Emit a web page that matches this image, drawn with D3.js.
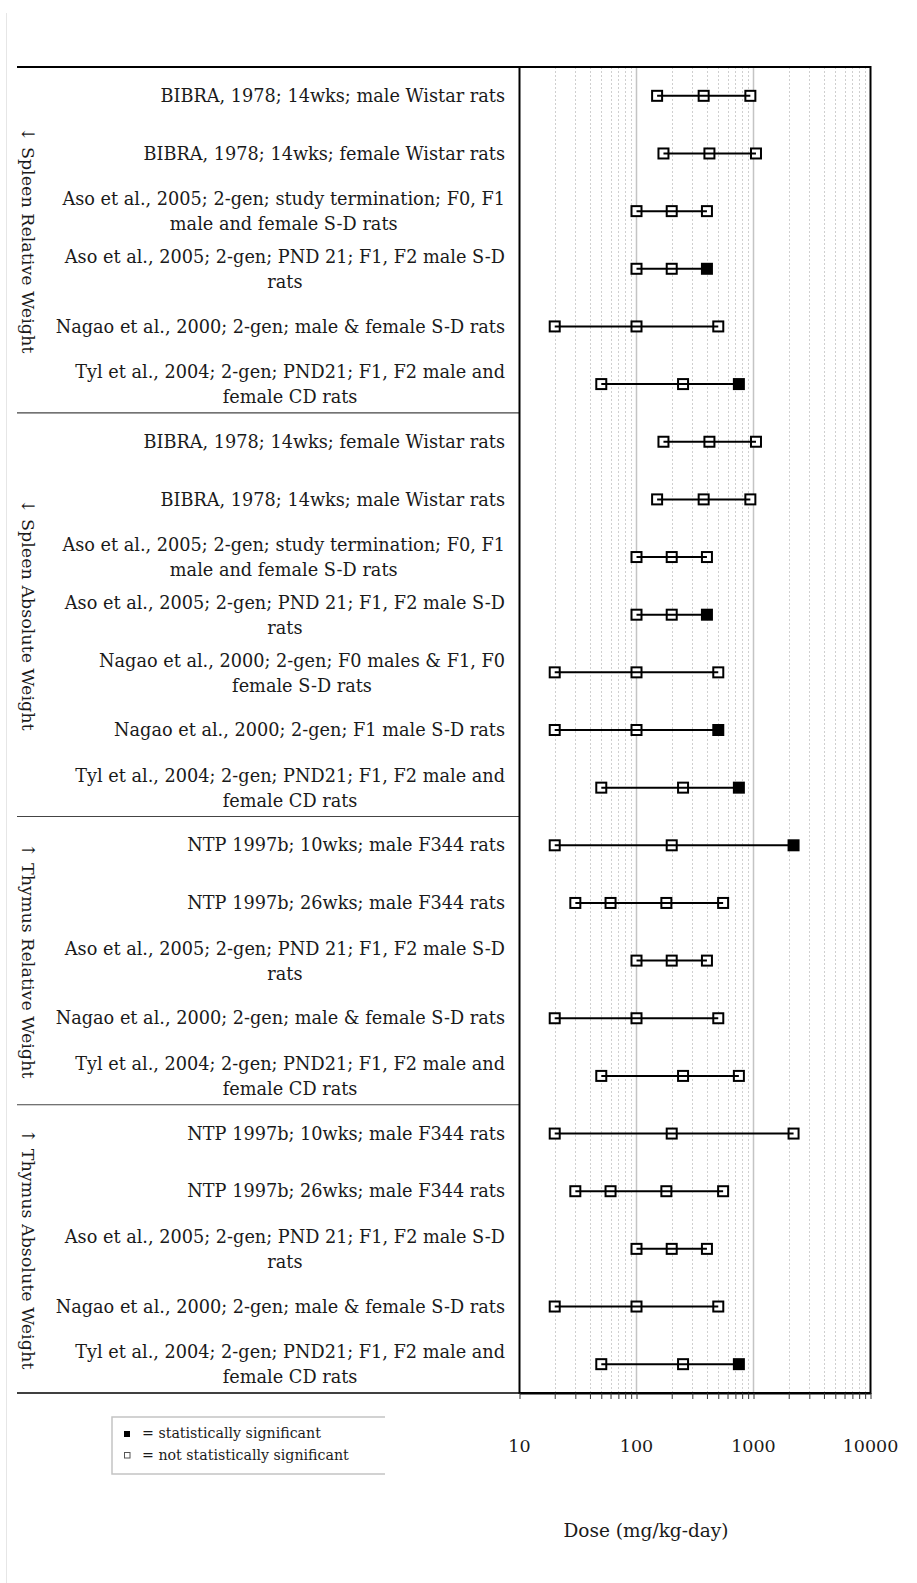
<!DOCTYPE html>
<html>
<head>
<meta charset="utf-8">
<script src="https://cdn.jsdelivr.net/npm/d3@7"></script>
<style>
  html, body { margin: 0; padding: 0; background: #fff; }
  svg { display: block; }
  text { font-family: "DejaVu Serif", serif; fill: #1a1a1a; }
</style>
</head>
<body>
<script>
// ---------------- DATA ----------------
const sectionNames = ["\u2193 Spleen Relative Weight", "\u2193 Spleen Absolute Weight", "\u2191 Thymus Relative Weight", "\u2191 Thymus Absolute Weight"];
const sectionSizes = [6, 7, 5, 5];

const studyLabels = [
  "BIBRA, 1978; 14wks; male Wistar rats",
  "BIBRA, 1978; 14wks; female Wistar rats",
  "Aso et al., 2005; 2-gen; study termination; F0, F1|male and female S-D rats",
  "Aso et al., 2005; 2-gen; PND 21; F1, F2 male S-D|rats",
  "Nagao et al., 2000; 2-gen; male & female S-D rats",
  "Tyl et al., 2004; 2-gen; PND21; F1, F2 male and|female CD rats",

  "BIBRA, 1978; 14wks; female Wistar rats",
  "BIBRA, 1978; 14wks; male Wistar rats",
  "Aso et al., 2005; 2-gen; study termination; F0, F1|male and female S-D rats",
  "Aso et al., 2005; 2-gen; PND 21; F1, F2 male S-D|rats",
  "Nagao et al., 2000; 2-gen; F0 males & F1, F0|female S-D rats",
  "Nagao et al., 2000; 2-gen; F1 male S-D rats",
  "Tyl et al., 2004; 2-gen; PND21; F1, F2 male and|female CD rats",

  "NTP 1997b; 10wks; male F344 rats",
  "NTP 1997b; 26wks; male F344 rats",
  "Aso et al., 2005; 2-gen; PND 21; F1, F2 male S-D|rats",
  "Nagao et al., 2000; 2-gen; male & female S-D rats",
  "Tyl et al., 2004; 2-gen; PND21; F1, F2 male and|female CD rats",

  "NTP 1997b; 10wks; male F344 rats",
  "NTP 1997b; 26wks; male F344 rats",
  "Aso et al., 2005; 2-gen; PND 21; F1, F2 male S-D|rats",
  "Nagao et al., 2000; 2-gen; male & female S-D rats",
  "Tyl et al., 2004; 2-gen; PND21; F1, F2 male and|female CD rats"
];

const doses = [
  [150, 375, 940],
  [170, 420, 1050],
  [100, 200, 400],
  [100, 200, 400],
  [20, 100, 500],
  [50, 250, 750],

  [170, 420, 1050],
  [150, 375, 940],
  [100, 200, 400],
  [100, 200, 400],
  [20, 100, 500],
  [20, 100, 500],
  [50, 250, 750],

  [20, 200, 2200],
  [30, 60, 180, 550],
  [100, 200, 400],
  [20, 100, 500],
  [50, 250, 750],

  [20, 200, 2200],
  [30, 60, 180, 550],
  [100, 200, 400],
  [20, 100, 500],
  [50, 250, 750]
];

// 1 = statistically significant
const significant = [
  [0, 0, 0],
  [0, 0, 0],
  [0, 0, 0],
  [0, 0, 1],
  [0, 0, 0],
  [0, 0, 1],

  [0, 0, 0],
  [0, 0, 0],
  [0, 0, 0],
  [0, 0, 1],
  [0, 0, 0],
  [0, 0, 1],
  [0, 0, 1],

  [0, 0, 1],
  [0, 0, 0, 0],
  [0, 0, 0],
  [0, 0, 0],
  [0, 0, 0],

  [0, 0, 0],
  [0, 0, 0, 0],
  [0, 0, 0],
  [0, 0, 0],
  [0, 0, 1]
];

const xTickValues = [10, 100, 1000, 10000];
const xTickLabels = ["10", "100", "1000", "10000"];
const xAxisTitle = "Dose (mg/kg-day)";
const legendLabels = ["= statistically significant", "= not statistically significant"];

// ---------------- LAYOUT ----------------
const W = 917, H = 1583;
const plotLeft = 519.5, plotRight = 870.5, plotTop = 67, plotBottom = 1393;
const labelRight = 505;
const sepLeft = 17;
const labelFont = 17.7;

const svg = d3.select("body").append("svg").attr("width", W).attr("height", H);

// faint outer frame line on the left
svg.append("line").attr("x1", 6.5).attr("x2", 6.5).attr("y1", 13).attr("y2", H)
  .attr("stroke", "#e6e6e6").attr("stroke-width", 1);

const x = d3.scaleLog().domain([10, 10000]).range([plotLeft, plotRight]);
const rowIdx = d3.range(studyLabels.length);
const y = d3.scaleBand().domain(rowIdx).range([plotTop, plotBottom]).padding(0);
const yc = i => y(i) + y.bandwidth() / 2;

// minor + major grid values
const minorVals = [];
[10, 100, 1000].forEach(dec => { for (let m = 2; m <= 9; m++) minorVals.push(dec * m); });
const majorInner = xTickValues.filter(v => v > 10 && v < 10000);

const grid = svg.append("g");
grid.selectAll("line.minor").data(minorVals).join("line")
  .attr("class", "minor")
  .attr("x1", d => Math.round(x(d)) + 0.5).attr("x2", d => Math.round(x(d)) + 0.5)
  .attr("y1", plotTop).attr("y2", plotBottom)
  .attr("stroke", "#cfcfcf").attr("stroke-width", 1).attr("stroke-dasharray", "2,2");
grid.selectAll("line.major").data(majorInner).join("line")
  .attr("class", "major")
  .attr("x1", d => x(d)).attr("x2", d => x(d))
  .attr("y1", plotTop).attr("y2", plotBottom)
  .attr("stroke", "#c4c4c4").attr("stroke-width", 1.5);

// section separators
const sectionStarts = [];
let acc = 0;
sectionSizes.forEach(s => { sectionStarts.push(acc); acc += s; });
const boundaries = sectionStarts.slice(1).map(s => y(s));
svg.selectAll("line.sep").data(boundaries).join("line")
  .attr("class", "sep")
  .attr("x1", sepLeft).attr("x2", plotLeft)
  .attr("y1", d => d).attr("y2", d => d)
  .attr("stroke", "#444").attr("stroke-width", 1.2);
svg.append("line").attr("x1", sepLeft).attr("x2", plotRight).attr("y1", plotTop).attr("y2", plotTop)
  .attr("stroke", "#000").attr("stroke-width", 2);
svg.append("line").attr("x1", sepLeft).attr("x2", plotLeft).attr("y1", plotBottom).attr("y2", plotBottom)
  .attr("stroke", "#000").attr("stroke-width", 1.5);

// plot border
svg.append("rect").attr("x", plotLeft).attr("y", plotTop)
  .attr("width", plotRight - plotLeft).attr("height", plotBottom - plotTop)
  .attr("fill", "none").attr("stroke", "#000").attr("stroke-width", 2);

// x axis ticks
const axisTicks = [10].concat(minorVals, [100, 1000, 10000]).sort((a, b) => a - b);
const xAxis = d3.axisBottom(x).tickValues(axisTicks).tickFormat("").tickSize(6).tickSizeOuter(0);
const axG = svg.append("g").attr("transform", `translate(0,${plotBottom})`).call(xAxis);
axG.select(".domain").attr("stroke", "#000").attr("stroke-width", 2);
axG.selectAll(".tick line").attr("stroke", "#333").attr("stroke-width", 1);

svg.selectAll("text.xt").data(xTickValues).join("text")
  .attr("class", "xt")
  .attr("x", d => x(d)).attr("y", 1452)
  .attr("text-anchor", "middle").attr("font-size", 17.5)
  .text((d, i) => xTickLabels[i]);

svg.append("text").attr("x", 646).attr("y", 1537)
  .attr("text-anchor", "middle").attr("font-size", 18.5)
  .text(xAxisTitle);

// section labels (rotated)
svg.selectAll("text.sec").data(sectionNames).join("text")
  .attr("class", "sec")
  .attr("font-size", 17.5)
  .attr("text-anchor", "middle")
  .attr("dominant-baseline", "central")
  .attr("transform", (d, i) => {
    const y0 = y(sectionStarts[i]);
    const y1 = y(sectionStarts[i]) + sectionSizes[i] * y.bandwidth();
    return `translate(28,${(y0 + y1) / 2}) rotate(90)`;
  })
  .text(d => d);

// study labels
const labG = svg.append("g");
studyLabels.forEach((lab, i) => {
  const lines = lab.split("|");
  const cy = yc(i);
  if (lines.length === 1) {
    labG.append("text").attr("x", labelRight).attr("y", cy)
      .attr("dy", "0.35em").attr("text-anchor", "end").attr("font-size", labelFont)
      .text(lines[0]);
  } else {
    const t1 = labG.append("text").attr("x", labelRight).attr("y", cy - 12)
      .attr("dy", "0.35em").attr("text-anchor", "end").attr("font-size", labelFont)
      .text(lines[0]);
    const w1 = t1.node().getComputedTextLength();
    labG.append("text").attr("x", labelRight - w1 / 2).attr("y", cy + 13)
      .attr("dy", "0.35em").attr("text-anchor", "middle").attr("font-size", labelFont)
      .text(lines[1]);
  }
});

// markers then connecting line on top
const ms = 10;
const rowsG = svg.append("g");
rowIdx.forEach(i => {
  const pts = doses[i].map((d, j) => ({ d, s: significant[i][j] }));
  const g = rowsG.append("g");
  g.selectAll("rect").data(pts).join("rect")
    .attr("x", p => x(p.d) - ms / 2).attr("y", yc(i) - ms / 2)
    .attr("width", ms).attr("height", ms)
    .attr("fill", p => p.s ? "#000" : "#fff")
    .attr("stroke", "#000").attr("stroke-width", 2);
  g.append("line")
    .attr("x1", x(d3.min(doses[i]))).attr("x2", x(d3.max(doses[i])))
    .attr("y1", yc(i)).attr("y2", yc(i))
    .attr("stroke", "#000").attr("stroke-width", 2);
});

// legend
const lg = svg.append("g");
lg.append("path")
  .attr("d", "M385,1417 H112 V1474 H385")
  .attr("fill", "none").attr("stroke", "#c4c4c4").attr("stroke-width", 1.5);
lg.append("rect").attr("x", 124).attr("y", 1431).attr("width", 6).attr("height", 6).attr("fill", "#000");
lg.append("rect").attr("x", 124.5).attr("y", 1452.5).attr("width", 5.5).attr("height", 5.5)
  .attr("fill", "#fff").attr("stroke", "#555").attr("stroke-width", 1);
lg.selectAll("text").data(legendLabels).join("text")
  .attr("x", 142).attr("y", (d, i) => 1438 + i * 22)
  .attr("font-size", 14.2)
  .text(d => d);
</script>
</body>
</html>
